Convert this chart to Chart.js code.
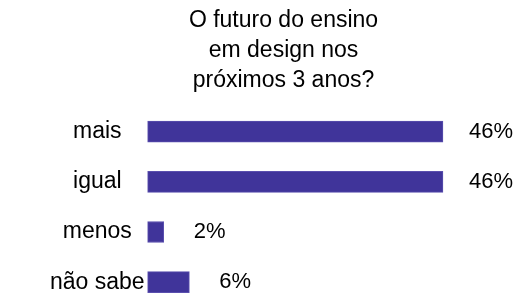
<!DOCTYPE html>
<html>
<head>
<meta charset="utf-8">
<script src="https://cdn.jsdelivr.net/npm/chart.js@4/dist/chart.umd.min.js"></script>
<style>
  body { margin: 0; background: #fff; }
  #wrap { width: 520px; height: 299px; }
</style>
</head>
<body>
<div id="wrap"><canvas id="chart"></canvas></div>
<script>
const titleLines = ["O futuro do ensino", "em design nos", "próximos 3 anos?"];
const categories = ["mais", "igual", "menos", "não sabe"];
const values = [46, 46, 2.5, 6.5];
const valueLabels = ["46%", "46%", "2%", "6%"];

const FONT = "'Liberation Sans', Arial, sans-serif";

// draw the % text to the right of each bar
const valueLabelPlugin = {
    id: "valueLabels",
    afterDatasetsDraw(chart) {
        const ctx = chart.ctx;
        const meta = chart.getDatasetMeta(0);
        ctx.save();
        ctx.font = "22px " + FONT;
        ctx.fillStyle = "#000";
        ctx.textAlign = "left";
        ctx.textBaseline = "middle";
        meta.data.forEach((bar, i) => {
            const gap = values[i] < 10 ? 30 : 26;
            ctx.fillText(valueLabels[i], bar.x + gap, bar.y);
        });
        ctx.restore();
    }
};

new Chart(document.getElementById("chart"), {
    type: "bar",
    data: {
        labels: categories,
        datasets: [{
            data: values,
            backgroundColor: "#40349a",
            borderColor: "#5a4fae",
            borderWidth: 1,
            borderSkipped: false,
            barThickness: 21,
            clip: false
        }]
    },
    options: {
        indexAxis: "y",
        responsive: true,
        maintainAspectRatio: false,
        animation: false,
        layout: { padding: { left: 47, right: 0, top: 0, bottom: 12 } },
        plugins: {
            legend: { display: false },
            tooltip: { enabled: false },
            title: {
                display: true,
                text: titleLines,
                color: "#000",
                font: { family: FONT, size: 23, weight: "normal", lineHeight: 1.3 },
                padding: { top: 6, bottom: 36 }
            }
        },
        scales: {
            x: {
                display: false,
                min: 0,
                max: 58
            },
            y: {
                offset: false,
                grid: { display: false, drawTicks: false },
                border: { display: false },
                ticks: {
                    color: "#000",
                    font: { family: FONT, size: 23 },
                    crossAlign: "center",
                    padding: 3
                }
            }
        }
    },
    plugins: [valueLabelPlugin]
});
</script>
</body>
</html>
